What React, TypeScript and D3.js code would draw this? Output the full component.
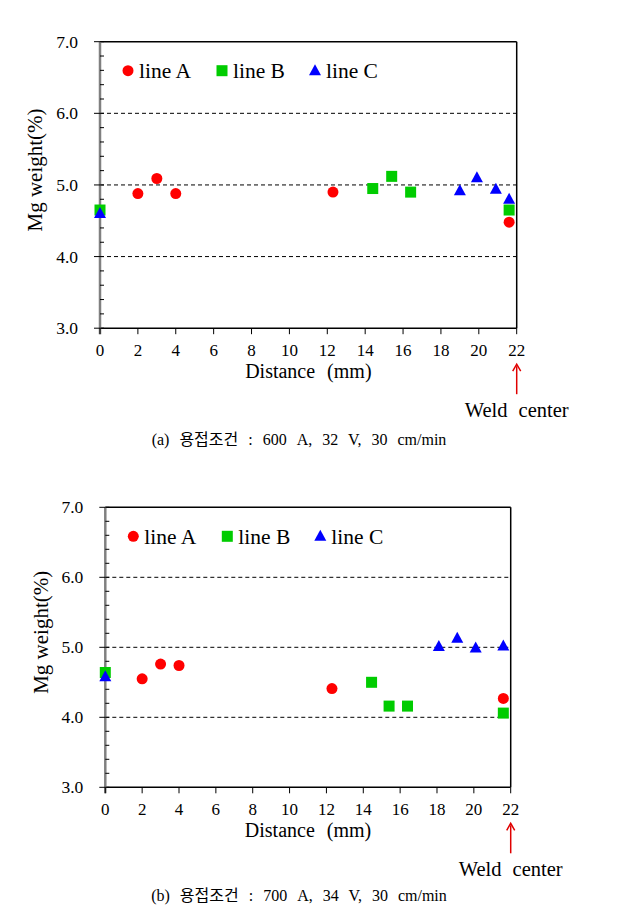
import * as d3 from "d3";

// x = distance (mm), y = Mg weight (%)
const topA: [number, number][] = [[2, 4.88], [3, 5.09], [4, 4.88], [12.3, 4.9], [21.6, 4.48]];
const topB: [number, number][] = [[0, 4.65], [14.4, 4.95], [15.4, 5.12], [16.4, 4.9], [21.6, 4.65]];
const topC: [number, number][] = [[0, 4.6], [19.0, 4.92], [19.9, 5.1], [20.9, 4.94], [21.6, 4.8]];

const botA: [number, number][] = [[2, 4.55], [3, 4.76], [4, 4.74], [12.3, 4.41], [21.6, 4.27]];
const botB: [number, number][] = [[0, 4.64], [14.45, 4.5], [15.4, 4.16], [16.4, 4.16], [21.6, 4.06]];
const botC: [number, number][] = [[0, 4.58], [18.1, 5.01], [19.1, 5.13], [20.1, 4.99], [21.6, 5.02]];

const seriesNames = ["line A", "line B", "line C"];
const xTicks = [0, 2, 4, 6, 8, 10, 12, 14, 16, 18, 20, 22];
const yTicks = [3, 4, 5, 6, 7];
const gridValues = [4, 5, 6];
const captions = [
  "(a) 용접조건 : 600 A, 32 V, 30 cm/min",
  "(b) 용접조건 : 700 A, 34 V, 30 cm/min",
];

const serif = "'Liberation Serif', 'Times New Roman', serif";
const captionFont = "'Liberation Serif', 'Noto Sans CJK KR', serif";

interface PanelProps {
  series: [number, number][][];
  left: number;
  right: number;
  top: number;
  bottom: number;
  caption: string;
  captionY: number;
}

function Marker({ kind, x, y }: { kind: number; x: number; y: number }) {
  if (kind === 0) return <circle cx={x} cy={y} r={5.5} fill="#ff0000" />;
  if (kind === 1)
    return <rect x={x - 5.5} y={y - 5.5} width={11} height={11} fill="#00cc00" />;
  return (
    <path
      d={`M${x},${y - 6.5}L${x + 6},${y + 4.5}L${x - 6},${y + 4.5}Z`}
      fill="#0000ff"
    />
  );
}

function Panel({ series, left, right, top, bottom, caption, captionY }: PanelProps) {
  const x = d3.scaleLinear([0, 22], [left, right]);
  const y = d3.scaleLinear([3, 7], [bottom, top]);
  const minor = d3.range(30, 71, 2).map((d) => d / 10);
  const legendX = [left + 28, left + 122, left + 215];
  const legendY = top + 29;

  return (
    <g>
      {gridValues.map((g) => (
        <line key={g} x1={left} x2={right} y1={y(g)} y2={y(g)}
          stroke="#000" strokeWidth={1} strokeDasharray="4,3" />
      ))}
      {/* frame */}
      <line x1={left} x2={right} y1={top} y2={top} stroke="#000" strokeWidth={1.5} />
      <line x1={right} x2={right} y1={top} y2={bottom} stroke="#000" strokeWidth={1.5} />
      <line x1={left} x2={right} y1={bottom} y2={bottom} stroke="#000" strokeWidth={1.5} />
      <line x1={left} x2={left} y1={top} y2={bottom + 6} stroke="#808080" strokeWidth={2.5} />
      {/* y ticks */}
      {minor.map((m) => (
        <line key={m} x1={left} x2={left + 4} y1={y(m)} y2={y(m)} stroke="#000" />
      ))}
      {yTicks.map((t) => (
        <g key={t}>
          <line x1={left - 6} x2={left} y1={y(t)} y2={y(t)} stroke="#000" />
          <text x={left - 22} y={y(t)} dy="0.35em" textAnchor="end"
            fontFamily={serif} fontSize={17.5}>{d3.format(".1f")(t)}</text>
        </g>
      ))}
      {xTicks.map((t) => (
        <g key={t}>
          <line x1={x(t)} x2={x(t)} y1={bottom} y2={bottom + 6} stroke="#000" />
          <text x={x(t)} y={bottom + 28} textAnchor="middle"
            fontFamily={serif} fontSize={17}>{t}</text>
        </g>
      ))}
      <text transform={`translate(${left - 65},${(top + bottom) / 2 - 15}) rotate(-90)`}
        textAnchor="middle" dy="0.35em" fontFamily={serif} fontSize={21}>Mg weight(%)</text>
      <text x={(left + right) / 2} y={bottom + 50} textAnchor="middle"
        fontFamily={serif} fontSize={20} wordSpacing={7}>Distance (mm)</text>
      {/* data */}
      {series.map((s, k) => (
        <g key={k}>
          {s.map(([dx, dy], i) => (
            <Marker key={i} kind={k} x={x(dx)} y={y(dy)} />
          ))}
        </g>
      ))}
      {/* legend */}
      {seriesNames.map((n, k) => (
        <g key={n}>
          <Marker kind={k} x={legendX[k]} y={legendY} />
          <text x={legendX[k] + 11} y={legendY} dy="0.35em"
            fontFamily={serif} fontSize={21.5}>{n}</text>
        </g>
      ))}
      {/* weld center */}
      <line x1={right} x2={right} y1={bottom + 38} y2={bottom + 66}
        stroke="#e00000" strokeWidth={1.5} />
      <path d={`M${right - 4},${bottom + 43}L${right},${bottom + 36}L${right + 4},${bottom + 43}`}
        fill="none" stroke="#e00000" strokeWidth={1.5} />
      <text x={right} y={bottom + 89} textAnchor="middle" fontFamily={serif}
        fontSize={20.5} wordSpacing={6}>Weld center</text>
      <text x={299} y={captionY} textAnchor="middle" fontFamily={captionFont}
        fontSize={16} wordSpacing={6}>{caption}</text>
    </g>
  );
}

export default function App() {
  return (
    <svg width={633} height={910}
      style={{ position: "absolute", left: 0, top: 0, background: "#fff" }}>
      <rect width={633} height={910} fill="#fff" />
      <Panel series={[topA, topB, topC]} left={100} right={516.7} top={41.7}
        bottom={328.2} caption={captions[0]} captionY={445} />
      <Panel series={[botA, botB, botC]} left={105.3} right={510.7} top={507.3}
        bottom={787.3} caption={captions[1]} captionY={901} />
    </svg>
  );
}
